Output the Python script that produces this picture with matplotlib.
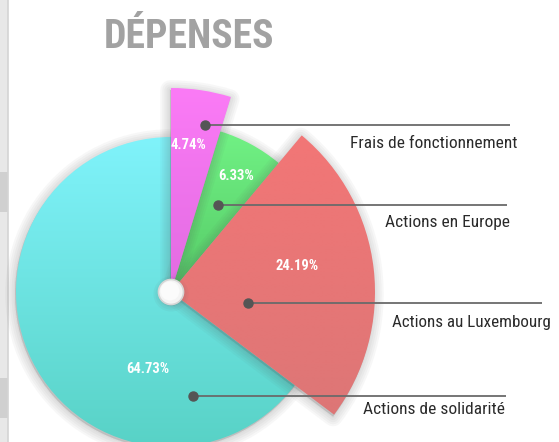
import numpy as np
import matplotlib
matplotlib.use("Agg")
import matplotlib.pyplot as plt
from matplotlib import font_manager
from matplotlib.patches import Wedge, Circle, Rectangle
from matplotlib.colors import LinearSegmentedColormap

# ---------------- DATA ----------------
categories = ["Frais de fonctionnement", "Actions en Europe",
              "Actions au Luxembourg", "Actions de solidarité"]
values = [4.74, 6.33, 24.19, 64.73]          # percent of expenses
title = "DÉPENSES"

# ---------------- STYLE ----------------
W, H = 559, 442
CENTER = (171, 150)                            # pixel coords, y up
radii = [204, 168, 204, 155]
grad_top = ["#fb7bf6", "#72f386", "#f67676", "#80f3fb"]
grad_bot = ["#c85ccc", "#38a046", "#d77676", "#58d2c6"]
draw_order = [3, 1, 0, 2]                      # cyan, green, magenta, red
pct_pos = [(188, 297), (236, 266), (297, 176), (148, 73)]
dot_pos = [(205, 317), (218, 237), (248, 139), (193, 46)]
line_end = [510, 507, 542, 506]
lab_pos = [(518, 298), (510, 219), (551, 119), (505, 32)]
lab_width = [168, 126, 162, 144]               # target text widths, px

# pick a narrow font if one is around
fonts = font_manager.fontManager.ttflist
names = {f.name for f in fonts}
NARROW, STRETCH = "DejaVu Sans", "condensed"
for cand in ("Roboto Condensed", "Open Sans Condensed", "Liberation Sans Narrow"):
    if cand in names:
        NARROW, STRETCH = cand, "normal"
        break
else:
    cond = [f for f in fonts if f.stretch in ("condensed", "semi-condensed", "extra-condensed")]
    if cond:
        NARROW, STRETCH = cond[0].name, cond[0].stretch

fig = plt.figure(figsize=(W / 100, H / 100), dpi=100)
ax = fig.add_axes([0, 0, 1, 1])
ax.set_xlim(0, W); ax.set_ylim(0, H)
ax.set_aspect("equal"); ax.axis("off")

# spreadsheet strip on the left edge
ax.add_patch(Rectangle((0, 0), 7.5, H, fc="#e8e8e8", ec="none", zorder=0))
for y, fc in ((230, "#d0d0d0"), (24, "#d0d0d0")):
    ax.add_patch(Rectangle((0, y), 7.5, 40, fc=fc, ec="none", zorder=0))
ax.plot([8, 8], [0, H], color="#d4d4d4", lw=1.2, zorder=0)

# angles: start at top, go clockwise
total = sum(values)
ends = 90 - np.cumsum(values) / total * 360
starts = np.concatenate([[90], ends[:-1]])

z = 1
for i in draw_order:
    t1, t2 = ends[i], starts[i]
    # soft shadow: stacked strokes of the wedge outline
    for lw in (14, 11, 8, 5, 2):
        ax.add_patch(Wedge((CENTER[0] - 1, CENTER[1] - 2), radii[i], t1, t2,
                           fc="#555555", ec="#555555", lw=lw, alpha=0.045,
                           joinstyle="round", zorder=z))
    z += 1
    w = Wedge(CENTER, radii[i], t1, t2, fc="none", ec="none", zorder=z)
    ax.add_patch(w)
    cmap = LinearSegmentedColormap.from_list("g%d" % i, [grad_bot[i], grad_top[i]])
    grad = np.linspace(0, 1, 256).reshape(-1, 1)
    y0 = CENTER[1] - radii[i]; y1 = CENTER[1] + radii[i]
    im = ax.imshow(grad, extent=[CENTER[0] - radii[i], CENTER[0] + radii[i], y0, y1],
                   origin="lower", cmap=cmap, aspect="auto", zorder=z,
                   interpolation="bilinear")
    im.set_clip_path(w)
    z += 1

# centre knob
for lw in (8, 5, 2):
    ax.add_patch(Circle((CENTER[0], CENTER[1] - 2), 12, fc="#666666", ec="#666666",
                        lw=lw, alpha=0.06, zorder=z))
ax.add_patch(Circle(CENTER, 12.5, fc="#f4f4f4", ec="#d6d6d6", lw=1.2, zorder=z + 1))
ax.add_patch(Circle((CENTER[0] - 1, CENTER[1] + 1), 9.5, fc="#fbfbfb", ec="none", zorder=z + 1))
z += 2

# percent labels
for i, v in enumerate(values):
    ax.text(pct_pos[i][0], pct_pos[i][1], f"{v:.2f}%", color="white",
            fontsize=10.5, fontweight="bold", family=NARROW, fontstretch=STRETCH,
            ha="center", va="center", zorder=z)

# leader lines + category labels
renderer = fig.canvas.get_renderer()
for i, name in enumerate(categories):
    dx, dy = dot_pos[i]
    ax.plot([dx, line_end[i]], [dy, dy], color="#6a6a6a", lw=1.3, zorder=z,
            solid_capstyle="butt")
    ax.plot(dx, dy, "o", ms=6.5, color="#555555", zorder=z + 1)
    t = ax.text(lab_pos[i][0], lab_pos[i][1], name, color="#2a2a2a", fontsize=14,
                family=NARROW, fontstretch=STRETCH, ha="right", va="center", zorder=z)
    # shrink until the label is about as wide as in the source
    while t.get_window_extent(renderer).width > lab_width[i] and t.get_fontsize() > 8:
        t.set_fontsize(t.get_fontsize() - 0.25)

tt = ax.text(189, 405, title, color="#a2a2a2", fontsize=34, fontweight="bold",
             family=NARROW, fontstretch=STRETCH, ha="center", va="center")
while tt.get_window_extent(renderer).width > 172 and tt.get_fontsize() > 12:
    tt.set_fontsize(tt.get_fontsize() - 0.5)

fig.savefig("out.png", dpi=100)
